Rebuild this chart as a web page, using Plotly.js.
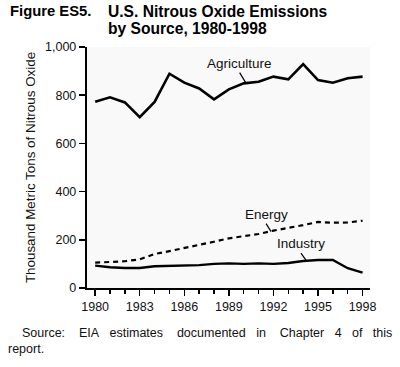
<!DOCTYPE html>
<html><head><meta charset="utf-8">
<script src="https://cdn.plot.ly/plotly-3.0.1.min.js"></script>
<style>body{margin:0;background:#fff}#c{width:400px;height:367px}</style>
</head><body><div id="c"></div>
<script>
const years = [1980,1981,1982,1983,1984,1985,1986,1987,1988,1989,1990,1991,1992,1993,1994,1995,1996,1997,1998];
const agriculture = [773,791,770,709,772,889,852,828,783,824,849,856,877,866,929,863,852,870,877];
const energy = [105,107,111,119,141,153,165,178,192,206,216,224,238,248,261,274,271,272,279];
const industry = [93,86,83,83,90,91,91,95,100,102,100,102,100,104,112,116,116,82,64];
const yTicks = [0,200,400,600,800,1000];
const xTicks = [1980,1983,1986,1989,1992,1995,1998];

const F = "Liberation Sans, Arial, sans-serif";
const traces = [
  {x: years, y: agriculture, mode:'lines', line:{color:'#000', width:2.6}, hoverinfo:'skip'},
  {x: years, y: energy, mode:'lines', line:{color:'#000', width:2.2, dash:'5px,4px'}, hoverinfo:'skip'},
  {x: years, y: industry, mode:'lines', line:{color:'#000', width:2.4}, hoverinfo:'skip'}
];
const sp3 = '\u00a0\u00a0\u00a0', sp4 = '\u00a0\u00a0\u00a0\u00a0';
const footer1 = ['Source:', sp4, 'EIA', sp3, 'estimates', sp4, 'documented', sp3, 'in', sp4, 'Chapter', sp3, '4', sp3, 'of', sp3, 'this'].join('');
const layout = {
  width:400, height:367, showlegend:false,
  paper_bgcolor:'#fff', plot_bgcolor:'#f9f9f9',
  margin:{l:87, r:30, t:47, b:79},
  font:{family:F, color:'#111', size:12.5},
  xaxis:{range:[1979.45,1998.5], tickvals:xTicks, ticktext:xTicks.map(String), showgrid:false, zeroline:false,
    showline:true, linecolor:'#000', linewidth:2, ticks:'outside', ticklen:6, tickwidth:1.5, tickcolor:'#000',
    minor:{tickvals:years, ticks:'outside', ticklen:4, tickwidth:1.5, tickcolor:'#000'},
    tickfont:{size:12.5, family:F}},
  yaxis:{range:[0,1000], tickvals:yTicks, ticktext:yTicks.map(v=>v.toLocaleString('en-US')), showgrid:false, zeroline:false,
    showline:true, linecolor:'#000', linewidth:2.2, ticks:'outside', ticklen:6, tickwidth:1.5, tickcolor:'#000',
    tickfont:{size:12.5, family:F},
    title:{text:'Thousand Metric Tons of Nitrous Oxide', font:{size:13.4, family:F}, standoff:6}},
  annotations:[
    {xref:'paper', yref:'paper', x:-0.279, y:1.149, xanchor:'left', yanchor:'middle', text:'<b>Figure ES5.</b>', showarrow:false, font:{size:14.8, family:F, color:'#000'}},
    {xref:'paper', yref:'paper', x:0.067, y:1.149, xanchor:'left', yanchor:'middle', text:'<b>U.S. Nitrous Oxide Emissions</b>', showarrow:false, font:{size:15.6, family:F, color:'#000'}},
    {xref:'paper', yref:'paper', x:0.067, y:1.077, xanchor:'left', yanchor:'middle', text:'<b>by Source, 1980-1998</b>', showarrow:false, font:{size:15.6, family:F, color:'#000'}},
    {x:1990.13, y:852, text:'Agriculture', showarrow:true, arrowhead:0, arrowwidth:1.2, arrowcolor:'#000', ax:-6, ay:-10, yanchor:'bottom', font:{size:13.5, family:F, color:'#111'}},
    {x:1991.84, y:234, text:'Energy', showarrow:true, arrowhead:0, arrowwidth:1.2, arrowcolor:'#000', ax:-5, ay:-8, yanchor:'bottom', xshift:0, font:{size:13.5, family:F, color:'#111'}},
    {x:1994.19, y:116, text:'Industry', showarrow:true, arrowhead:0, arrowwidth:1.2, arrowcolor:'#000', ax:-5, ay:-7, yanchor:'bottom', font:{size:13.5, family:F, color:'#111'}},
    {xref:'paper', yref:'paper', x:-0.237, y:-0.188, xanchor:'left', yanchor:'middle', text:footer1, showarrow:false, font:{size:12.5, family:F, color:'#111'}},
    {xref:'paper', yref:'paper', x:-0.286, y:-0.255, xanchor:'left', yanchor:'middle', text:'report.', showarrow:false, font:{size:12.5, family:F, color:'#111'}}
  ]
};
Plotly.newPlot('c', traces, layout, {displayModeBar:false, staticPlot:true});
</script></body></html>
